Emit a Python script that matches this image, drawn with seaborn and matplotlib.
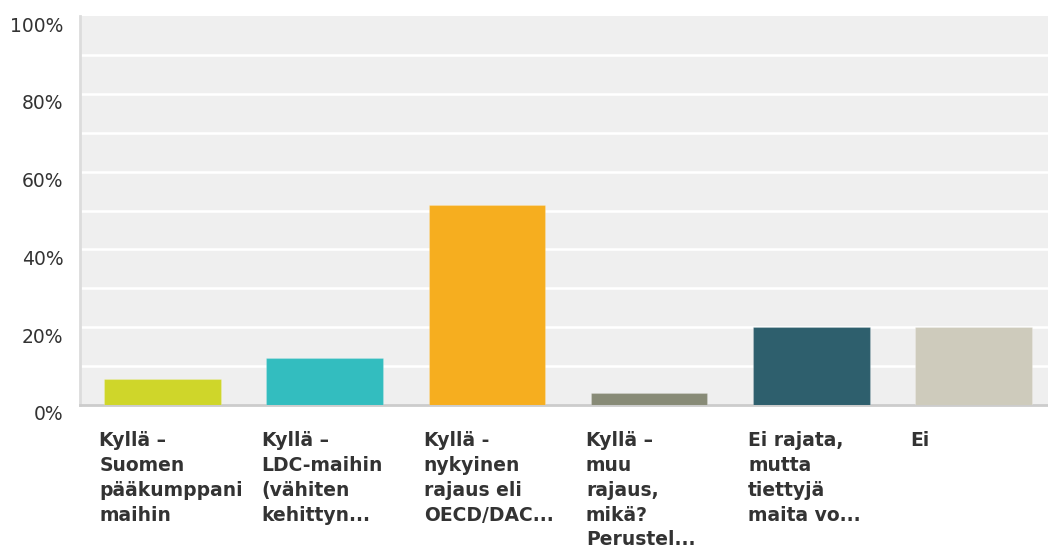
import matplotlib
matplotlib.use("Agg")
import matplotlib.pyplot as plt
import matplotlib.transforms as mtransforms
import pandas as pd
import seaborn as sns

# survey answers (labels as truncated in the original chart)
categories = [
    "Kyllä –\nSuomen\npääkumppani\nmaihin",
    "Kyllä –\nLDC-maihin\n(vähiten\nkehittyn...",
    "Kyllä -\nnykyinen\nrajaus eli\nOECD/DAC...",
    "Kyllä –\nmuu\nrajaus,\nmikä?\nPerustel...",
    "Ei rajata,\nmutta\ntiettyjä\nmaita vo...",
    "Ei",
]
shares = [6.7, 12.1, 51.5, 3.1, 20.0, 20.0]
colors = ["#cfd62a", "#33bdbf", "#f6ae1f", "#888b77", "#2e5f6d", "#cecbbc"]
yticks = [0, 20, 40, 60, 80, 100]
ytick_labels = ["0%", "20%", "40%", "60%", "80%", "100%"]

df = pd.DataFrame({"answer": categories, "share": shares})

sns.set_style("white")
plt.rcParams["font.family"] = ["DejaVu Sans"]

fig = plt.figure(figsize=(10.48, 5.51), dpi=100)
ax = fig.add_axes([80 / 1048, 1 - 405 / 551, 1 - 80 / 1048, 389 / 551])

sns.barplot(data=df, x="answer", y="share", hue="answer", palette=colors,
            legend=False, width=0.72, ax=ax, saturation=1,
            edgecolor="#ffffff30", linewidth=0.8, zorder=3)

ax.set_facecolor("#efefef")
ax.set_ylim(0, 100)
ax.set_xlim(-0.51, 5.46)
for v in range(10, 100, 10):
    ax.axhline(v, color="white", lw=1.8, zorder=1)

ax.set_yticks(yticks)
ax.set_yticklabels(ytick_labels, fontsize=13.5, color="#333333")
ax.tick_params(axis="y", length=0, pad=12)
# labels sit a little below their gridline in the original
shift = mtransforms.ScaledTranslation(0, -8 / 100, fig.dpi_scale_trans)
for t in ax.get_yticklabels():
    t.set_transform(t.get_transform() + shift)
ax.set_xticks([])
ax.set_xlabel("")
ax.set_ylabel("")

for side in ["top", "right"]:
    ax.spines[side].set_visible(False)
ax.spines["left"].set_color("#dcdcdc")
ax.spines["left"].set_linewidth(2)
ax.spines["bottom"].set_color("#cccccc")
ax.spines["bottom"].set_linewidth(2)

# category labels under the bars, left aligned
trans = mtransforms.blended_transform_factory(ax.transData, ax.transAxes)
for i, lab in enumerate(categories):
    ax.text(i - 0.39, -0.068, lab, transform=trans, ha="left", va="top",
            fontsize=13.5, fontweight="bold", color="#333333",
            linespacing=1.38)

fig.savefig("out.png", dpi=100)
